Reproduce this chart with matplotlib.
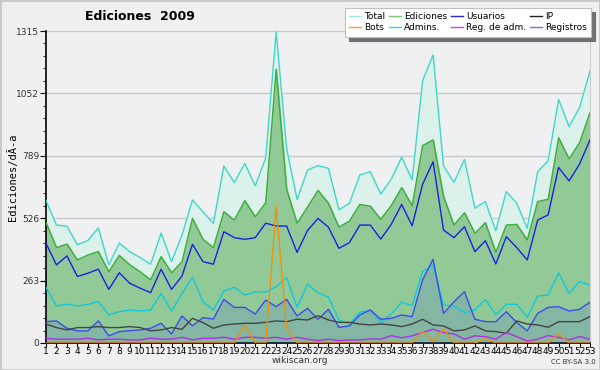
import matplotlib
matplotlib.use('Agg')
import matplotlib.pyplot as plt
from matplotlib.lines import Line2D
from matplotlib.patches import Rectangle
import numpy as np

weeks = list(range(1, 54))
total = [600, 497, 492, 414, 432, 485, 329, 421, 385, 360, 332, 463, 343, 455, 603, 553, 504, 746, 676, 757,
         662, 780, 1312, 820, 605, 729, 748, 736, 561, 589, 708, 722, 628, 690, 783, 687, 1106, 1214, 746, 677,
         774, 568, 596, 473, 638, 589, 483, 722, 768, 1027, 912, 992, 1146]
ediciones = [507, 402, 417, 350, 371, 385, 300, 369, 330, 300, 266, 364, 296, 343, 525, 437, 402, 553, 518, 600,
             532, 591, 1154, 648, 505, 573, 643, 589, 488, 514, 584, 577, 521, 579, 655, 579, 832, 856, 617, 497,
             549, 462, 507, 382, 497, 500, 434, 596, 606, 865, 776, 844, 971]
usuarios = [420, 329, 367, 280, 294, 311, 226, 296, 252, 231, 212, 311, 226, 282, 416, 343, 332, 469, 444, 437,
            444, 505, 493, 493, 382, 474, 525, 488, 399, 423, 497, 497, 438, 500, 584, 494, 669, 764, 476, 444,
            490, 385, 431, 333, 448, 402, 350, 518, 540, 740, 683, 754, 856]
ip = [80, 65, 55, 65, 65, 69, 65, 65, 69, 65, 51, 55, 65, 58, 104, 86, 62, 76, 80, 83,
      83, 87, 93, 90, 100, 97, 115, 97, 87, 87, 80, 76, 80, 76, 69, 80, 100, 76, 72, 51,
      55, 72, 51, 48, 41, 93, 80, 76, 66, 90, 90, 90, 111]
bots = [0, 0, 0, 0, 0, 0, 0, 0, 0, 0, 0, 0, 0, 0, 0, 0, 0, 0, 0, 76,
        0, 0, 575, 62, 0, 0, 0, 0, 0, 0, 0, 0, 0, 0, 0, 0, 50, 5, 60, 0,
        0, 0, 18, 0, 0, 0, 0, 0, 0, 38, 0, 0, 0]
admins = [234, 156, 164, 156, 163, 174, 118, 132, 139, 135, 139, 209, 135, 209, 277, 174, 139, 219, 235, 202,
          216, 215, 237, 277, 150, 247, 212, 193, 97, 80, 129, 139, 86, 121, 172, 157, 301, 329, 160, 156,
          128, 139, 184, 118, 163, 163, 108, 198, 202, 296, 209, 258, 244]
reg_adm = [20, 16, 16, 16, 20, 13, 16, 16, 13, 13, 20, 16, 16, 24, 13, 20, 20, 24, 16, 24,
           24, 20, 24, 16, 24, 16, 10, 16, 10, 13, 13, 17, 16, 31, 22, 30, 44, 58, 44, 38,
           16, 30, 27, 16, 44, 27, 8, 16, 31, 24, 13, 27, 16]
registros = [90, 93, 62, 51, 51, 93, 30, 48, 52, 55, 62, 83, 38, 114, 72, 107, 101, 184, 150, 150,
             122, 181, 153, 184, 114, 146, 100, 142, 66, 72, 118, 139, 100, 104, 118, 111, 266, 353, 125, 174,
             216, 100, 90, 90, 132, 86, 51, 125, 150, 153, 135, 142, 172]
yticks = [0, 263, 526, 789, 1052, 1315]

fig = plt.figure(figsize=(6, 3.7), dpi=100, facecolor='#f0f0f0')
fig.patches.append(Rectangle((0, 0), 1, 1, transform=fig.transFigure, fill=False,
                             edgecolor='#c8c8c8', linewidth=2))
ax = fig.add_axes([0.0767, 0.073, 0.9066, 0.8432])
ax.set_facecolor('#eff0f2')

ax.fill_between(weeks, total, color='#dcf1eb', zorder=1)
ax.fill_between(weeks, ediciones, color='#92ca97', zorder=2)
ax.fill_between(weeks, registros, color='#5577cc', alpha=0.24, linewidth=0, zorder=3)

ax.plot(weeks, total, color='#40d8c8', lw=1, zorder=5)
ax.plot(weeks, ediciones, color='#3cae3c', lw=1, zorder=5)
ax.plot(weeks, usuarios, color='#1a22e0', lw=1, zorder=5)
ax.plot(weeks, admins, color='#10c8dc', lw=1, zorder=5)
ax.plot(weeks, registros, color='#3a4cf0', lw=1, zorder=5)
ax.plot(weeks, ip, color='#444444', lw=1, zorder=5)
ax.plot(weeks, reg_adm, color='#b030e8', lw=1, zorder=5)
ax.plot(weeks, bots, color='#f09010', lw=1, zorder=6)

ax.set_xlim(1, 53)
ax.set_ylim(0, 1315)
ax.set_yticks(yticks)
ax.set_yticks(np.arange(0, 1315, 263 / 5), minor=True)
ax.set_xticks(weeks)
ax.tick_params(axis='both', labelsize=6.5, colors='black', length=4, pad=1)
ax.tick_params(axis='y', which='minor', length=2)
ax.tick_params(axis='x', length=3, pad=0)
ax.grid(axis='y', color='#c8c8c8', lw=1, zorder=0)
ax.set_axisbelow(True)
ax.spines['top'].set_visible(False)
ax.spines['right'].set_color('#d0d0d0')
ax.spines['left'].set_linewidth(1.2)
ax.spines['bottom'].set_linewidth(1.2)
for lab in ax.get_yticklabels():
    lab.set_color('#333333')

fig.text(0.012, 0.52, 'Ediciones/dÃ\u00ada', rotation=90, va='center', ha='left',
         family='DejaVu Sans Mono', fontsize=7.5)
fig.text(0.142, 0.955, 'Ediciones  2009', fontsize=9, fontweight='bold', ha='left', va='center')
fig.text(0.5, 0.025, 'wikiscan.org', fontsize=6.5, ha='center', va='center', color='#333333')
fig.text(0.955, 0.022, 'CC BY-SA 3.0', fontsize=5, ha='center', va='center', color='#333333')

handles = [
    Line2D([], [], color='#9fece2', lw=1), Line2D([], [], color='#f5a020', lw=1),
    Line2D([], [], color='#70d070', lw=1), Line2D([], [], color='#30d8e0', lw=1),
    Line2D([], [], color='#2828e8', lw=1), Line2D([], [], color='#d040f0', lw=1),
    Line2D([], [], color='#202020', lw=1), Line2D([], [], color='#7070ff', lw=1),
]
labels = ['Total', 'Bots', 'Ediciones', 'Admins.', 'Usuarios', 'Reg. de adm.', 'IP', 'Registros']
leg = fig.legend(handles, labels, ncol=4, loc='upper right', bbox_to_anchor=(0.985, 0.978),
                 prop={'size': 6.5}, frameon=True, fancybox=False,
                 shadow={'color': '#707070', 'alpha': 1, 'ox': 3, 'oy': -3},
                 handlelength=1.4, handletextpad=0.3, columnspacing=0.4, labelspacing=0.25,
                 borderpad=0.45, borderaxespad=0)
leg.get_frame().set_edgecolor('#c0c0c0')
leg.get_frame().set_linewidth(0.8)

fig.savefig('out.png', dpi=100, facecolor=fig.get_facecolor())
plt.close(fig)
